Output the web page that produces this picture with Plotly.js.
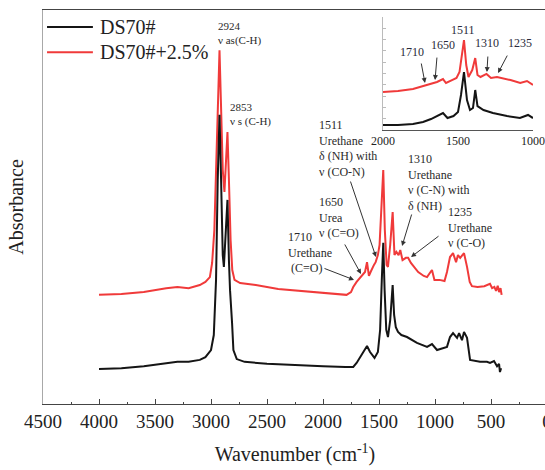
<!DOCTYPE html>
<html>
<head>
<meta charset="utf-8">
<script src="https://cdn.plot.ly/plotly-3.0.1.min.js"></script>
<style>
  html, body { margin: 0; padding: 0; overflow: hidden; background: #fff; }
  #chart { width: 560px; height: 470px; }
</style>
</head>
<body>
<div id="chart"></div>
<script>
// FTIR spectra, wavenumber (cm-1) vs absorbance (arbitrary units)
const seriesNames = ['DS70#', 'DS70#+2.5%'];

const wnBlack = [4000, 3800, 3600, 3400, 3300, 3200, 3100, 3050, 3000, 2975, 2955, 2940, 2924, 2910, 2895, 2885, 2870, 2853, 2840, 2830, 2812, 2800, 2770, 2700, 2500, 2300, 2000, 1800, 1730, 1700, 1660, 1630, 1607, 1580, 1540, 1510, 1490, 1475, 1462, 1450, 1435, 1420, 1400, 1378, 1365, 1350, 1330, 1300, 1250, 1161, 1071, 1027, 982, 893, 866, 839, 803, 785, 759, 741, 714, 687, 643, 598, 536, 509, 473, 446, 428, 420, 410];
const absBlack = [8.9, 9.1, 9.6, 10.4, 10.7, 10.7, 11.2, 11.9, 13.7, 17.5, 31.5, 56.9, 73.4, 56.9, 37.8, 34.8, 44.2, 51.8, 36.5, 28.9, 20.6, 13.7, 11.4, 10.7, 10.2, 9.9, 9.6, 9.4, 9.4, 10.4, 12.4, 13.7, 14.7, 13.2, 11.7, 13.2, 18.8, 31.5, 40.9, 28.9, 18.8, 17.0, 21.3, 30.2, 22.6, 19.5, 18.3, 17.5, 17.0, 15.5, 14.5, 15.2, 13.7, 14.5, 17.0, 18.0, 16.8, 18.0, 16.2, 18.3, 16.8, 11.2, 10.9, 10.7, 10.7, 10.4, 10.9, 9.6, 10.2, 8.1, 9.1];

const wnRed = [4000, 3800, 3600, 3400, 3300, 3200, 3100, 3050, 3010, 2990, 2970, 2950, 2935, 2924, 2912, 2895, 2880, 2866, 2853, 2840, 2825, 2810, 2790, 2740, 2600, 2400, 2200, 2000, 1790, 1750, 1730, 1700, 1670, 1645, 1625, 1607, 1590, 1575, 1560, 1545, 1530, 1510, 1495, 1480, 1462, 1448, 1432, 1420, 1400, 1378, 1362, 1345, 1325, 1310, 1290, 1260, 1240, 1215, 1180, 1150, 1100, 1071, 1040, 1027, 1005, 960, 915, 893, 866, 839, 812, 795, 775, 741, 714, 690, 670, 620, 560, 509, 490, 470, 455, 440, 428, 415, 405];
const absRed = [27.7, 27.9, 28.4, 29.4, 29.7, 29.4, 30.2, 31.0, 32.2, 35.8, 44.2, 64.5, 82.2, 89.8, 77.2, 59.4, 53.8, 61.9, 69.0, 56.9, 41.6, 34.0, 31.5, 30.7, 30.2, 29.2, 28.7, 28.2, 27.7, 28.4, 29.7, 31.0, 32.0, 32.7, 33.5, 36.0, 32.5, 33.5, 34.5, 35.3, 36.0, 37.8, 40.4, 50.5, 59.4, 44.2, 35.3, 34.8, 40.4, 48.7, 37.8, 38.6, 37.8, 39.1, 36.5, 37.1, 37.1, 35.8, 34.5, 33.5, 32.5, 32.2, 33.5, 34.0, 31.5, 31.5, 31.2, 33.5, 37.3, 38.3, 36.0, 37.8, 37.1, 38.3, 34.8, 31.0, 29.9, 29.7, 29.9, 30.5, 29.4, 29.7, 28.7, 30.0, 28.4, 29.4, 27.7];

// enlarged 2000-1000 cm-1 region
const wnInsetBlack = [2000, 1900, 1800, 1733, 1680, 1640, 1600, 1570, 1530, 1500, 1480, 1460, 1440, 1420, 1400, 1385, 1370, 1330, 1267, 1173, 1087, 1033, 1000];
const absInsetBlack = [4.4, 4.4, 5.3, 7.1, 9.7, 12.4, 15.0, 10.6, 12.4, 15.9, 31.0, 51.3, 26.5, 17.7, 19.5, 35.4, 21.2, 17.7, 15.0, 12.4, 10.6, 13.3, 10.6];
const wnInsetRed = [2000, 1900, 1800, 1730, 1700, 1640, 1600, 1580, 1540, 1510, 1490, 1475, 1460, 1445, 1430, 1405, 1385, 1370, 1350, 1310, 1280, 1240, 1200, 1150, 1085, 1040, 1000];
const absInsetRed = [33.6, 34.5, 36.3, 38.9, 40.7, 42.5, 45.1, 41.6, 44.2, 46.0, 51.3, 66.4, 79.6, 57.5, 46.9, 53.1, 63.7, 48.7, 46.9, 49.6, 46.0, 46.9, 46.0, 44.2, 41.6, 43.4, 39.8];

const xTicks = [4500, 4000, 3500, 3000, 2500, 2000, 1500, 1000, 500, 0];
const insetTicks = [2000, 1500, 1000];

const SERIF = 'Liberation Serif';
const BLACK = '#151515';
const RED = '#f03a3a';

const traces = [
  { x: wnRed, y: absRed, type: 'scatter', mode: 'lines', name: seriesNames[1],
    line: { color: RED, width: 2 }, xaxis: 'x', yaxis: 'y' },
  { x: wnBlack, y: absBlack, type: 'scatter', mode: 'lines', name: seriesNames[0],
    line: { color: BLACK, width: 2 }, xaxis: 'x', yaxis: 'y' },
  { x: wnInsetRed, y: absInsetRed, type: 'scatter', mode: 'lines', name: seriesNames[1],
    line: { color: RED, width: 2 }, xaxis: 'x2', yaxis: 'y2' },
  { x: wnInsetBlack, y: absInsetBlack, type: 'scatter', mode: 'lines', name: seriesNames[0],
    line: { color: BLACK, width: 2 }, xaxis: 'x2', yaxis: 'y2' }
];

// band assignment labels on the main plot
function note(text, x, y, size) {
  return { text: text, x: x, y: y, xref: 'x', yref: 'y', xanchor: 'left', yanchor: 'middle',
           align: 'left', showarrow: false, font: { family: SERIF, size: size || 12, color: '#2a2a2a' } };
}
function pointer(x, y, ax, ay, xref, yref) {
  return { text: '', x: x, y: y, xref: xref || 'x', yref: yref || 'y', ax: ax, ay: ay,
           showarrow: true, arrowhead: 2, arrowsize: 1, arrowwidth: 1, arrowcolor: '#333' };
}
function insetNote(text, x, y) {
  return { text: text, x: x, y: y, xref: 'x2', yref: 'y2', xanchor: 'center', yanchor: 'middle',
           showarrow: false, font: { family: SERIF, size: 12, color: '#2a2a3a' } };
}

const annotations = [
  note('2924<br>ν as(C-H)', 2955, 94.0, 11),
  note('2853<br>ν s (C-H)', 2848, 73.4, 11),
  note('1511<br>Urethane<br>δ (NH) with<br>ν (CO-N)', 2053, 64.8),
  note('1310<br>Urethane<br>ν (C-N) with<br>δ (NH)', 1259, 56.2),
  note('1650<br>Urea<br>ν (C=O)', 2053, 47.3),
  note('1710<br>Urethane<br> (C=O)', 2330, 38.5),
  note('1235<br>Urethane<br>ν (C-O)', 902, 44.7),
  pointer(1527, 37.3, -26, -77),
  pointer(1661, 33.0, -17, -31),
  pointer(1723, 31.5, -31, -12),
  pointer(1294, 40.1, 10, -33),
  pointer(1214, 37.3, 29, -22),
  insetNote('1710', 1807, 69),
  insetNote('1650', 1600, 75.2),
  insetNote('1511', 1467, 88.5),
  insetNote('1310', 1307, 77),
  insetNote('1235', 1087, 77),
  pointer(1720, 41.6, -4, -21, 'x2', 'y2'),
  pointer(1653, 44.2, 2, -24, 'x2', 'y2'),
  pointer(1307, 51.3, 1, -17, 'x2', 'y2'),
  pointer(1233, 50.4, 10, -19, 'x2', 'y2'),
  // legend text
  { text: seriesNames[0], x: 0.109, y: 0.957, xref: 'paper', yref: 'paper', xanchor: 'left', yanchor: 'middle',
    showarrow: false, font: { family: SERIF, size: 20, color: '#222' } },
  { text: seriesNames[1], x: 0.109, y: 0.893, xref: 'paper', yref: 'paper', xanchor: 'left', yanchor: 'middle',
    showarrow: false, font: { family: SERIF, size: 20, color: '#222' } }
];

// legend line samples
const shapes = [
  { type: 'line', xref: 'paper', yref: 'paper', x0: 0.008, x1: 0.099, y0: 0.957, y1: 0.957,
    line: { color: BLACK, width: 2 } },
  { type: 'line', xref: 'paper', yref: 'paper', x0: 0.008, x1: 0.099, y0: 0.893, y1: 0.893,
    line: { color: RED, width: 2 } }
];

const layout = {
  width: 560, height: 470,
  margin: { l: 43, r: 13, t: 10, b: 66 },
  paper_bgcolor: '#fff', plot_bgcolor: '#fff',
  showlegend: false,
  font: { family: SERIF, color: '#222' },
  xaxis: {
    range: [4500, 0], tickvals: xTicks, ticktext: xTicks.map(String),
    ticks: 'inside', ticklen: 5, tickcolor: '#444', tickwidth: 1,
    minor: { dtick: 250, tick0: 0, ticks: 'inside', ticklen: 2.5, tickcolor: '#444', showgrid: false },
    showline: true, linecolor: '#444', linewidth: 1.2, mirror: true,
    showgrid: false, zeroline: false, automargin: false,
    tickfont: { family: SERIF, size: 19, color: '#222' }, ticklabelstandoff: 0,
    title: { text: 'Wavenumber (cm<sup>-1</sup>)', font: { family: SERIF, size: 20, color: '#222' }, standoff: 16 }
  },
  yaxis: {
    range: [0, 100], showticklabels: false, ticks: '',
    showline: true, linecolor: '#a8a8a8', linewidth: 1.2, mirror: true,
    showgrid: false, zeroline: false, automargin: false,
    title: { text: 'Absorbance', font: { family: SERIF, size: 20, color: '#222' }, standoff: 12 }
  },
  xaxis2: {
    domain: [0.6746, 0.9722], anchor: 'y2', range: [2000, 1000],
    tickvals: insetTicks, ticktext: insetTicks.map(String), ticks: '',
    showline: true, linecolor: '#555', linewidth: 1,
    showgrid: false, zeroline: false,
    tickfont: { family: SERIF, size: 12, color: '#222' }
  },
  yaxis2: {
    domain: [0.6954, 0.9822], anchor: 'x2', range: [0, 100],
    showticklabels: false, ticks: 'inside', dtick: 10, ticklen: 3, tickcolor: '#bbb',
    showline: true, linecolor: '#bbb', linewidth: 1,
    showgrid: false, zeroline: false
  },
  annotations: annotations,
  shapes: shapes
};

Plotly.newPlot('chart', traces, layout, { staticPlot: true, displayModeBar: false });
</script>
</body>
</html>
